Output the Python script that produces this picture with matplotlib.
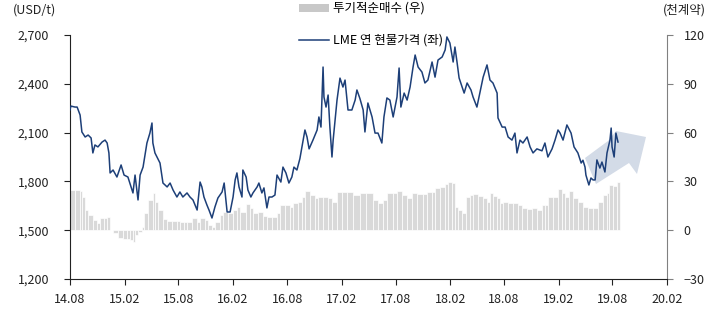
import matplotlib
matplotlib.use("Agg")
import matplotlib.pyplot as plt
import matplotlib.dates as mdates
from matplotlib.patches import Polygon, Patch
from matplotlib.lines import Line2D
from matplotlib.ticker import FuncFormatter
import numpy as np
import pandas as pd

plt.rcParams['font.family'] = ['Noto Sans CJK KR', 'DejaVu Sans']

# LME lead cash price (USD/t), left axis
price_dates = [
    "2014-08-01", "2014-08-04", "2014-08-18", "2014-08-25", "2014-09-04", "2014-09-10",
    "2014-09-21", "2014-10-01", "2014-10-11", "2014-10-17", "2014-10-24", "2014-11-03",
    "2014-11-17", "2014-11-27", "2014-12-04", "2014-12-10", "2014-12-14", "2014-12-24",
    "2015-01-06", "2015-01-20", "2015-01-30", "2015-02-12", "2015-03-01", "2015-03-08",
    "2015-03-18", "2015-03-25", "2015-04-04", "2015-04-17", "2015-04-27", "2015-05-04",
    "2015-05-07", "2015-05-14", "2015-05-31", "2015-06-10", "2015-06-24", "2015-07-04",
    "2015-07-14", "2015-07-27", "2015-08-06", "2015-08-16", "2015-08-30", "2015-09-09",
    "2015-09-19", "2015-10-03", "2015-10-13", "2015-10-19", "2015-10-26", "2015-11-05",
    "2015-11-12", "2015-11-22", "2015-12-02", "2015-12-12", "2015-12-26", "2016-01-02",
    "2016-01-12", "2016-01-22", "2016-02-01", "2016-02-08", "2016-02-14", "2016-02-21",
    "2016-03-02", "2016-03-05", "2016-03-16", "2016-03-22", "2016-04-01", "2016-04-08",
    "2016-04-22", "2016-04-28", "2016-05-08", "2016-05-15", "2016-05-25", "2016-06-01",
    "2016-06-11", "2016-06-21", "2016-06-28", "2016-07-11", "2016-07-18", "2016-07-28",
    "2016-08-07", "2016-08-17", "2016-08-24", "2016-09-03", "2016-09-13", "2016-09-30",
    "2016-10-07", "2016-10-14", "2016-10-27", "2016-11-10", "2016-11-16", "2016-11-23",
    "2016-11-30", "2016-12-03", "2016-12-10", "2016-12-17", "2016-12-23", "2016-12-30",
    "2017-01-03", "2017-01-16", "2017-01-26", "2017-02-05", "2017-02-12", "2017-02-22",
    "2017-03-07", "2017-03-18", "2017-03-24", "2017-04-03", "2017-04-14", "2017-04-20",
    "2017-04-30", "2017-05-14", "2017-05-24", "2017-06-03", "2017-06-16", "2017-06-23",
    "2017-07-03", "2017-07-13", "2017-07-24", "2017-08-06", "2017-08-13", "2017-08-19",
    "2017-08-30", "2017-09-09", "2017-09-19", "2017-09-29", "2017-10-06", "2017-10-16",
    "2017-10-29", "2017-11-08", "2017-11-18", "2017-12-02", "2017-12-12", "2017-12-22",
    "2018-01-05", "2018-01-15", "2018-01-21", "2018-01-31", "2018-02-11", "2018-02-17",
    "2018-02-24", "2018-03-03", "2018-03-13", "2018-03-20", "2018-03-30", "2018-04-12",
    "2018-04-19", "2018-05-02", "2018-05-16", "2018-05-23", "2018-06-05", "2018-06-15",
    "2018-06-25", "2018-07-09", "2018-07-12", "2018-07-26", "2018-08-05", "2018-08-15",
    "2018-08-28", "2018-09-07", "2018-09-14", "2018-09-24", "2018-10-04", "2018-10-18",
    "2018-10-28", "2018-11-07", "2018-11-20", "2018-12-07", "2018-12-17", "2018-12-27",
    "2019-01-10", "2019-01-20", "2019-01-30", "2019-02-06", "2019-02-16", "2019-03-01",
    "2019-03-15", "2019-03-25", "2019-04-07", "2019-04-18", "2019-04-24", "2019-05-01",
    "2019-05-04", "2019-05-14", "2019-05-21", "2019-05-28", "2019-06-04", "2019-06-10",
    "2019-06-20", "2019-06-27", "2019-07-07", "2019-07-14", "2019-07-24", "2019-07-28",
    "2019-07-31", "2019-08-07", "2019-08-13", "2019-08-20",
]
price_vals = [
    2240, 2263, 2257, 2257, 2208, 2104,
    2073, 2085, 2067, 1975, 2024, 2012,
    2042, 2054, 2036, 1975, 1852, 1870,
    1827, 1901, 1839, 1827, 1729, 1839,
    1686, 1839, 1888, 2036, 2097, 2159,
    2036, 1975, 1913, 1790, 1766, 1790,
    1747, 1704, 1735, 1704, 1729, 1704,
    1686, 1624, 1796, 1766, 1704, 1655,
    1624, 1575, 1643, 1698, 1735, 1790,
    1612, 1612, 1704, 1809, 1852, 1766,
    1704, 1870, 1827, 1747, 1704, 1729,
    1766, 1790, 1729, 1760, 1637, 1704,
    1704, 1716, 1839, 1796, 1888, 1852,
    1790, 1827, 1888, 1870, 1940, 2116,
    2073, 2000, 2054, 2116, 2196, 2134,
    2503, 2319, 2257, 2331, 2134, 1950,
    2054, 2300, 2435, 2380, 2423, 2239,
    2239, 2300, 2362, 2310, 2239, 2104,
    2282, 2196, 2097, 2097, 2036, 2196,
    2313, 2300, 2196, 2319, 2497, 2257,
    2343, 2300, 2380, 2503, 2577, 2503,
    2472, 2405, 2423, 2534, 2441, 2546,
    2565, 2608, 2688, 2651, 2534, 2626,
    2534, 2436, 2380, 2343, 2405, 2362,
    2319, 2257, 2380, 2441, 2516, 2423,
    2405, 2343, 2190, 2134, 2134, 2073,
    2054, 2097, 1975, 2054, 2036, 2073,
    2012, 1975, 2000, 1988, 2036, 1950,
    2000, 2054, 2116, 2097, 2054, 2147,
    2097, 2012, 1975, 1913, 1930, 1888,
    1839, 1778, 1821, 1809, 1809, 1932,
    1882, 1919, 1858, 1975, 2054, 2128,
    2012, 1950, 2097, 2042,
]

# speculative net long (thousand contracts), right axis
spec_dates = [
    "2014-08-01", "2014-08-18", "2014-09-04", "2014-09-10", "2014-09-21", "2014-10-01",
    "2014-10-17", "2014-10-31", "2014-11-10", "2014-11-23", "2014-12-04", "2014-12-14",
    "2014-12-24", "2015-01-10", "2015-01-26", "2015-02-09", "2015-02-19", "2015-03-01",
    "2015-03-08", "2015-03-18", "2015-03-31", "2015-04-07", "2015-04-21", "2015-05-07",
    "2015-05-14", "2015-05-24", "2015-06-10", "2015-06-24", "2015-07-10", "2015-07-27",
    "2015-08-06", "2015-08-20", "2015-08-30", "2015-09-16", "2015-10-03", "2015-10-13",
    "2015-10-30", "2015-11-09", "2015-11-22", "2015-12-02", "2015-12-19", "2015-12-29",
    "2016-01-15", "2016-02-01", "2016-02-14", "2016-02-24", "2016-03-16", "2016-03-29",
    "2016-04-08", "2016-04-25", "2016-05-12", "2016-05-25", "2016-06-11", "2016-06-28",
    "2016-07-08", "2016-07-25", "2016-08-11", "2016-08-21", "2016-09-07", "2016-09-20",
    "2016-09-30", "2016-10-17", "2016-11-03", "2016-11-13", "2016-11-30", "2016-12-17",
    "2016-12-30", "2017-01-16", "2017-02-02", "2017-02-19", "2017-03-11", "2017-04-03",
    "2017-04-24", "2017-05-17", "2017-06-03", "2017-06-20", "2017-07-03", "2017-07-24",
    "2017-08-06", "2017-08-23", "2017-09-09", "2017-09-26", "2017-10-12", "2017-11-02",
    "2017-11-15", "2017-12-02", "2017-12-12", "2017-12-29", "2018-01-15", "2018-01-25",
    "2018-02-07", "2018-02-17", "2018-02-27", "2018-03-13", "2018-03-26", "2018-04-09",
    "2018-04-19", "2018-05-06", "2018-05-23", "2018-06-05", "2018-06-15", "2018-06-25",
    "2018-07-09", "2018-07-19", "2018-07-29", "2018-08-15", "2018-09-01", "2018-09-17",
    "2018-10-01", "2018-10-18", "2018-11-04", "2018-11-20", "2018-12-07", "2018-12-17",
    "2018-12-27", "2019-01-13", "2019-01-30", "2019-02-13", "2019-02-23", "2019-03-08",
    "2019-03-22", "2019-04-07", "2019-04-24", "2019-05-11", "2019-05-28", "2019-06-14",
    "2019-07-01", "2019-07-14", "2019-07-21", "2019-08-03", "2019-08-17",
]
spec_vals = [
    25.0, 24.5, 24.0, 20.6, 12.4, 9.3,
    6.3, 4.6, 7.5, 7.5, 7.9, 0.0,
    -1.5, -5.0, -5.5, -5.5, -6.0, -7.3,
    -3.0, -1.0, 2.2, 10.5, 18.6, 22.7,
    17.5, 12.4, 6.7, 5.6, 5.6, 5.6,
    5.0, 5.0, 5.0, 7.3, 5.0, 7.3,
    6.3, 3.2, 2.2, 5.0, 9.3, 11.4,
    10.5, 12.4, 14.5, 11.4, 16.1, 13.5,
    10.5, 11.4, 8.7, 8.3, 8.3, 10.5,
    15.5, 15.5, 14.5, 16.5, 17.5, 20.6,
    24.1, 21.6, 19.6, 20.6, 20.6, 19.6,
    17.5, 23.7, 23.7, 23.7, 21.6, 22.7,
    22.7, 18.6, 16.5, 18.6, 22.7, 22.7,
    24.3, 21.6, 19.6, 22.7, 22.0, 22.0,
    23.3, 23.3, 25.8, 26.8, 28.4, 29.8,
    28.8, 14.5, 12.4, 10.4, 20.6, 21.6,
    22.0, 21.0, 19.6, 17.5, 22.7, 21.0,
    19.6, 16.5, 17.5, 16.9, 16.5, 15.5,
    13.5, 12.8, 13.5, 12.4, 15.5, 15.5,
    20.6, 20.6, 25.1, 22.7, 20.6, 24.1,
    19.6, 17.5, 14.5, 13.5, 13.5, 17.5,
    21.6, 22.7, 27.8, 27.2, 29.4,
]

left_ticks = [1200, 1500, 1800, 2100, 2400, 2700]
right_ticks = [-30, 0, 30, 60, 90, 120]

W, H = 723, 320
fig = plt.figure(figsize=(W / 100, H / 100), dpi=100)

ax = fig.add_axes([70 / W, 41 / H, 597 / W, 244 / H])
ax2 = ax.twinx()

# bars on the right-hand scale (drawn first, underneath)
sx = mdates.date2num(pd.to_datetime(spec_dates))
widths = np.append(np.diff(sx), 10)
ax.bar(sx, spec_vals, width=widths, align='edge', color='#d9d9d9',
       edgecolor='white', linewidth=0.5, zorder=1)
ax.set_ylim(-30, 120)
ax.set_yticks(right_ticks)
ax.yaxis.tick_right()
ax.yaxis.set_label_position('right')

# price line on the left-hand scale
px = mdates.date2num(pd.to_datetime(price_dates))
ax2.plot(px, price_vals, color='#1d3f78', lw=1.1, zorder=3)
ax2.set_ylim(1200, 2700)
ax2.set_yticks(left_ticks)
ax2.yaxis.tick_left()
ax2.yaxis.set_major_formatter(FuncFormatter(lambda v, p: f"{int(v):,}"))

# upward trend arrow (figure pixel coords)
arrow_px = [(585, 158), (608, 141), (616, 131), (646, 137), (637, 174),
            (629, 163), (596, 184)]
arrow = Polygon([(x / W, 1 - y / H) for x, y in arrow_px], closed=True,
                transform=fig.transFigure, facecolor='#d3dbe7', edgecolor='none',
                zorder=2)
ax2.add_patch(arrow)

xt = pd.date_range("2014-08-01", "2020-02-01", freq="6MS")
ax.set_xlim(mdates.date2num(pd.Timestamp("2014-08-01")),
            mdates.date2num(pd.Timestamp("2020-02-01")))
ax.set_xticks(mdates.date2num(xt))
ax.set_xticklabels([d.strftime("%y.%m") for d in xt])

for a in (ax, ax2):
    a.spines['top'].set_visible(False)
    a.tick_params(labelsize=9, colors='#222222', length=4, width=0.8)
ax.spines['left'].set_visible(False)
ax2.spines['bottom'].set_visible(False)
ax2.spines['right'].set_visible(False)
ax.spines['right'].set_color('#808080')
ax.spines['bottom'].set_color('#222222')
ax2.spines['left'].set_color('#222222')
ax.tick_params(axis='x', pad=6)
ax.tick_params(axis='y', pad=8, color='#808080')
ax2.tick_params(axis='y', pad=11)

fig.text(13 / W, 1 - 10 / H, "(USD/t)", fontsize=9, va='center', ha='left', color='#222222')
fig.text(706 / W, 1 - 10 / H, "(천계약)", fontsize=9, va='center', ha='right', color='#222222')

handles = [Patch(facecolor='#c8c8c8', edgecolor='none'),
           Line2D([0], [0], color='#1d3f78', lw=1.1)]
labels = ["투기적순매수 (우)", "LME 연 현물가격 (좌)"]
fig.legend(handles, labels, loc='upper left', bbox_to_anchor=(299 / W, 1 - 2 / H),
           frameon=False, fontsize=9, borderpad=0, borderaxespad=0,
           handlelength=2.4, handleheight=0.6, handletextpad=0.3, labelspacing=1.5)

fig.savefig("out.png", dpi=100)
